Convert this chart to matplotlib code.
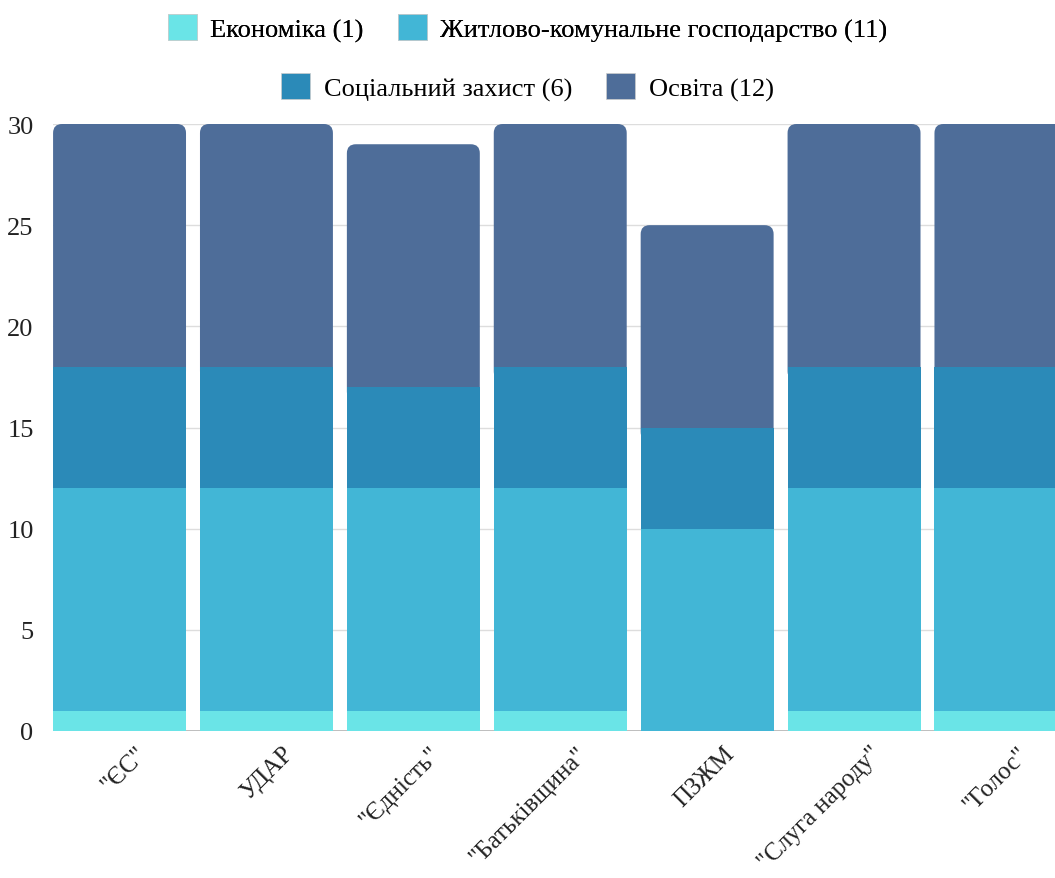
import numpy as np
import matplotlib
matplotlib.use("Agg")
import matplotlib.pyplot as plt
import matplotlib.transforms as mtransforms
from matplotlib.patches import FancyBboxPatch, Patch

plt.rcParams['font.family'] = ['Liberation Serif', 'DejaVu Serif']

parties = ['"ЄС"', 'УДАР', '"Єдність"', '"Батьківщина"', 'ПЗЖМ', '"Слуга народу"', '"Голос"']
series = ['Економіка (1)', 'Житлово-комунальне господарство (11)',
          'Соціальний захист (6)', 'Освіта (12)']
economy = [1, 1, 1, 1, 0, 1, 1]
housing = [11, 11, 11, 11, 10, 11, 11]
social = [6, 6, 5, 6, 5, 6, 6]
education = [12, 12, 12, 12, 10, 12, 12]
colors = ['#6ae4e7', '#42b6d6', '#2b8ab8', '#4e6d99']

W, H = 1055, 879
fig = plt.figure(figsize=(W / 100, H / 100), dpi=100)
ax = fig.add_axes([53 / W, (H - 732) / H, (W - 53) / W, (732 - 125) / H])

x = np.arange(len(parties))
bw = 0.905
ax.set_xlim(-0.453, 6.368)
ax.set_ylim(0, 30)

bottom = np.zeros(len(parties))
vals = [economy, housing, social]
for v, c in zip(vals, colors[:3]):
    ax.bar(x, v, bw, bottom=bottom, color=c, zorder=3, edgecolor='none')
    bottom += np.array(v)

# top segment with rounded upper corners
ppx = 146.9  # pixels per x unit
ppy = (732 - 125) / 30.0
r_px = 9
for xi, b, v in zip(x, bottom, education):
    ext = r_px * 1.5 / ppy
    p = FancyBboxPatch((xi - bw / 2, b - ext), bw, v + ext,
                       boxstyle="round,pad=0,rounding_size=%f" % (r_px / ppx),
                       mutation_aspect=ppx / ppy,
                       facecolor=colors[3], edgecolor='none', zorder=2.5)
    ax.add_patch(p)

ax.set_yticks(np.arange(0, 31, 5))
ax.yaxis.grid(True, color='#dddddd', linewidth=1, zorder=0)
ax.axhline(0, color='#aaaaaa', linewidth=1.2, zorder=1)
for s in ax.spines.values():
    s.set_visible(False)
ax.tick_params(axis='both', length=0, colors='#222222')
ax.tick_params(axis='y', pad=14, labelsize=19)
ax.set_xticks(x)
ax.set_xticklabels(parties, rotation=45, ha='right', va='top',
                   rotation_mode='anchor', fontsize=18)
ax.tick_params(axis='x', pad=8)
shift = mtransforms.ScaledTranslation(16 / 100, 0, fig.dpi_scale_trans)
for lab in ax.get_xticklabels():
    lab.set_transform(lab.get_transform() + shift)

handles = [Patch(facecolor=c, edgecolor='#cccccc', linewidth=0.5) for c in colors]
kw = dict(loc='center', ncol=2, frameon=False, fontsize=19, handlelength=1.1,
          handleheight=1.1, columnspacing=1.3, handletextpad=0.5)
leg1 = fig.legend(handles[:2], series[:2], bbox_to_anchor=(0.5, 1 - 29 / H), **kw)
leg2 = fig.legend(handles[2:], series[2:], bbox_to_anchor=(0.5, 1 - 88 / H), **kw)
fig.add_artist(leg1)

fig.savefig('out.png', dpi=100)
